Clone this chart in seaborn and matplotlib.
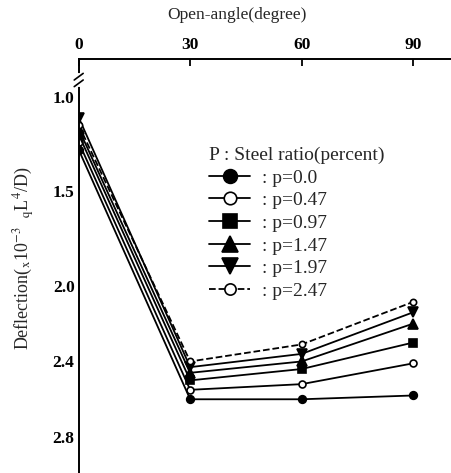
import matplotlib
matplotlib.use("Agg")
import matplotlib.pyplot as plt
import seaborn as sns
import pandas as pd

# Mid-span deflection versus open angle for several steel ratios
angles = [0, 30, 60, 90]
p_000 = [1.28, 2.60, 2.60, 2.58]
p_047 = [1.24, 2.55, 2.52, 2.41]
p_097 = [1.20, 2.50, 2.44, 2.30]
p_147 = [1.17, 2.46, 2.40, 2.20]
p_197 = [1.11, 2.43, 2.36, 2.14]
p_247 = [1.15, 2.40, 2.31, 2.085]

labels = [": p=0.0", ": p=0.47", ": p=0.97", ": p=1.47", ": p=1.97", ": p=2.47"]
series = [p_000, p_047, p_097, p_147, p_197, p_247]
markers = ["o", "o", "s", "^", "v", "o"]
fills = ["black", "white", "black", "black", "black", "white"]
styles = ["-", "-", "-", "-", "-", "--"]
sizes = [5.5, 5, 5.5, 6.5, 6.5, 4.5]

x_ticks = [0, 30, 60, 90]
y_ticks = [1.0, 1.5, 2.0, 2.4, 2.8]
y_tick_labels = ["1.0", "1.5", "2.0", "2.4", "2.8"]

sns.set_style("white")
plt.rcParams["font.family"] = ["Liberation Serif", "DejaVu Serif"]
plt.rcParams["mathtext.fontset"] = "stix"

fig = plt.figure(figsize=(4.51, 4.73), dpi=100)
ax = fig.add_axes([78.7 / 451, 0.0, 1 - 78.7 / 451, 1 - 59 / 473])

for vals, lab, mk, fc, ls, ms in zip(series, labels, markers, fills, styles, sizes):
    df = pd.DataFrame({"angle": angles, "deflection": vals})
    sns.lineplot(data=df, x="angle", y="deflection", ax=ax, color="black",
                 marker=mk, markerfacecolor=fc, markeredgecolor="black",
                 markeredgewidth=1.2, markersize=ms, linestyle=ls,
                 linewidth=1.3, label=lab, legend=False)

ax.set_xlim(0, 100.2)
ax.set_ylim(2.99, 0.80)

# Axis on the top edge, vertical axis on the left
ax.xaxis.set_ticks_position("top")
ax.xaxis.set_label_position("top")
for side in ("right", "bottom"):
    ax.spines[side].set_visible(False)
for side in ("left", "top"):
    ax.spines[side].set_color("black")
    ax.spines[side].set_linewidth(1.4)

ax.set_xticks(x_ticks)
ax.set_xticklabels([str(t) for t in x_ticks], fontsize=12.5, fontweight="bold")
ax.set_yticks(y_ticks)
ax.set_yticklabels(y_tick_labels, fontsize=12.5, fontweight="bold")
ax.tick_params(axis="x", direction="in", length=5, width=1.3, pad=4, colors="black")
ax.tick_params(axis="y", direction="in", length=5, width=1.3, pad=3, colors="black")

ax.set_xlabel("Open-angle(degree)", fontsize=12.5)
ax.xaxis.set_label_coords((237 - 78.7) / 372.3, 1 + 40 / 414)
ax.set_ylabel(r"Deflection($_{\rm x}$10$^{-3}$  $_{\rm q}$L$^4$/D)", fontsize=13)
ax.yaxis.set_label_coords(-(78.7 - 37) / 372.3, (473 - 258) / 414)

# Axis break mark on the vertical axis
bk = 1 - (80 - 59) / 414
ax.plot([0, 0], [bk - 0.012, bk + 0.012], transform=ax.transAxes, color="white",
        linewidth=3, clip_on=False, zorder=5)
for dy in (-0.008, 0.008):
    ax.plot([-0.012, 0.012], [bk + dy - 0.008, bk + dy + 0.008],
            transform=ax.transAxes, color="black", linewidth=1.2,
            clip_on=False, zorder=6)

leg = ax.legend(loc="upper left", bbox_to_anchor=(0.325, 0.812), frameon=False,
                title="P : Steel ratio(percent)", title_fontsize=14, fontsize=14,
                markerscale=1.8, handlelength=2.1, labelspacing=0.26,
                borderpad=0, handletextpad=0.6, alignment="left")
for h in leg.legend_handles:
    h.set_linewidth(1.3)

fig.savefig("out.png", dpi=100)
